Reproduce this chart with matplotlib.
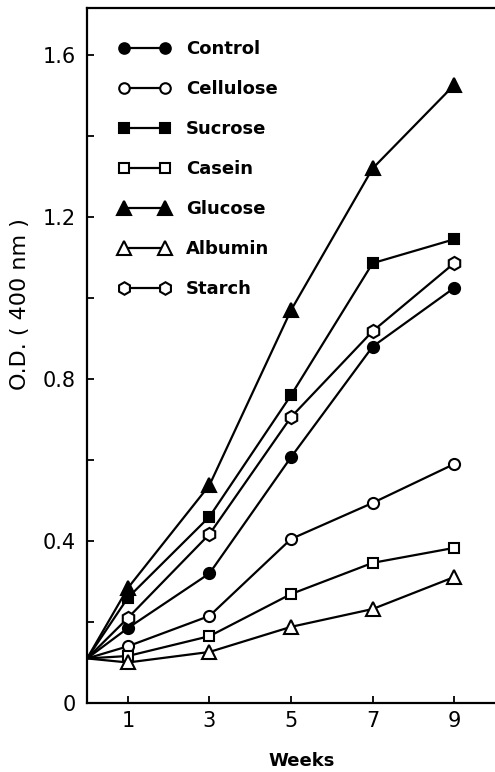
import numpy as np
import matplotlib
matplotlib.use('Agg')
import matplotlib.pyplot as plt

# ── Datos ───────────────────────────────────────────────────────────────────
weeks = [0, 1, 3, 5, 7, 9]

control   = [0.11, 0.185, 0.32, 0.607, 0.88, 1.025]
cellulose = [0.11, 0.14, 0.215, 0.405, 0.494, 0.59]
sucrose   = [0.11, 0.26, 0.46, 0.76, 1.086, 1.145]
casein    = [0.11, 0.116, 0.165, 0.269, 0.346, 0.383]
glucose   = [0.11, 0.284, 0.538, 0.97, 1.32, 1.526]
albumin   = [0.11, 0.10, 0.126, 0.188, 0.232, 0.311]
starch    = [0.11, 0.21, 0.417, 0.706, 0.918, 1.086]

series_names = ['Control', 'Cellulose', 'Sucrose', 'Casein', 'Glucose', 'Albumin', 'Starch']
x_ticks = [1, 3, 5, 7, 9]
y_labels = ['0', '', '0.4', '', '0.8', '', '1.2', '', '1.6']

# ── Estilo de cada serie ────────────────────────────────────────────────────
styles = [
    ('o', 'black', 8.0),
    ('o', 'white', 8.0),
    ('s', 'black', 7.5),
    ('s', 'white', 7.5),
    ('^', 'black', 10.0),
    ('^', 'white', 10.0),
    ('h', 'white', 9.5),
]
data = [control, cellulose, sucrose, casein, glucose, albumin, starch]

plt.rcParams['font.family'] = ['DejaVu Sans']

fig = plt.figure(figsize=(4.95, 7.72), dpi=100, facecolor='white')
ax = fig.add_axes([0.176, 0.0894, 0.824, 0.9002])

for name, ys, (mk, fc, ms) in zip(series_names, data, styles):
    ax.plot(weeks, ys, color='black', lw=1.6, marker=mk, ms=ms,
            mfc=fc, mec='black', mew=1.5, markevery=slice(1, None),
            label=name)

ax.set_xlim(0, 10)
ax.set_ylim(0, 1.716)

ax.set_xticks(x_ticks)
ax.set_xticklabels([str(v) for v in x_ticks], fontsize=15)
ax.set_yticks(np.arange(0, 1.61, 0.2))
ax.set_yticklabels(y_labels, fontsize=15)
ax.tick_params(direction='in', length=5, width=1.3, pad=6)
ax.tick_params(axis='y', pad=8)

ax.spines['right'].set_visible(False)
for side in ['left', 'bottom', 'top']:
    ax.spines[side].set_linewidth(1.6)

ax.set_xlabel('Weeks', fontsize=13, fontweight='bold')
ax.xaxis.set_label_coords(0.525, -0.07)
ax.set_ylabel('O.D. ( 400 nm )', fontsize=16)
ax.yaxis.set_label_coords(-0.14, 0.574)

leg = ax.legend(loc='upper left', bbox_to_anchor=(0.037, 0.977), frameon=False,
                numpoints=2, handlelength=2.88, handletextpad=0.85,
                labelspacing=1.22, markerscale=0.95,
                prop={'weight': 'bold', 'size': 13})

fig.savefig('out.png', dpi=100)
